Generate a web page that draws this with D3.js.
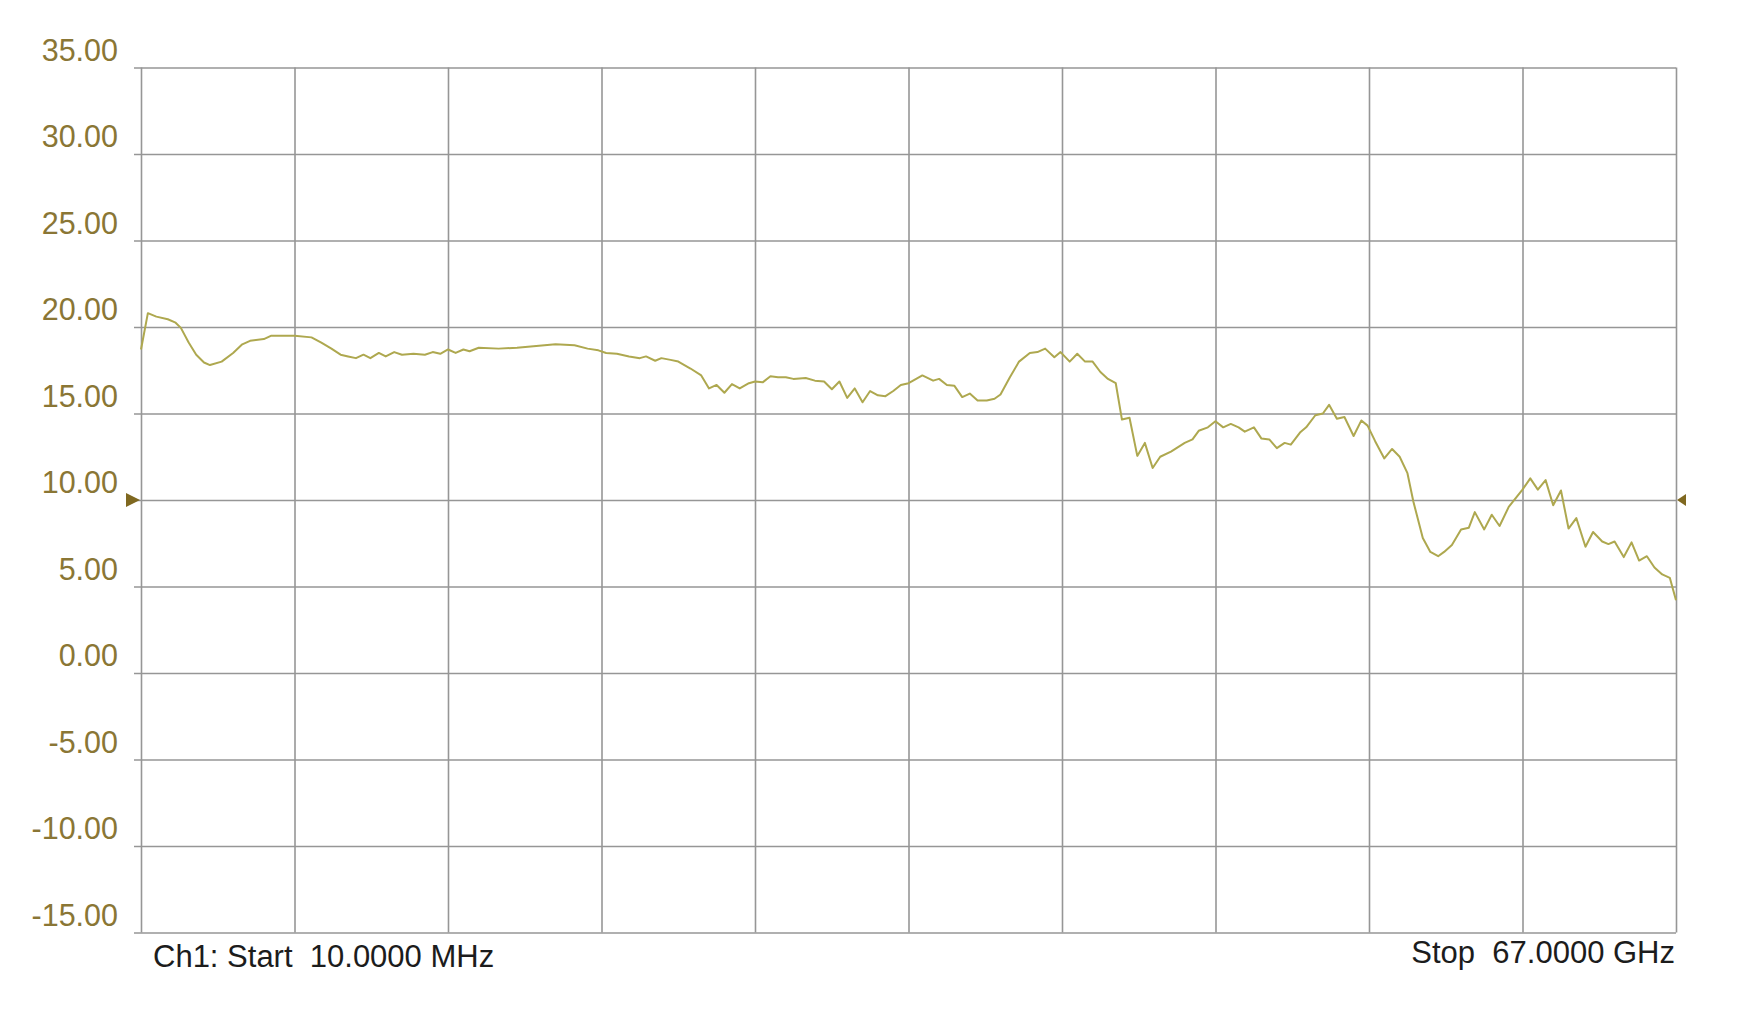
<!DOCTYPE html>
<html>
<head>
<meta charset="utf-8">
<script src="https://cdn.jsdelivr.net/npm/d3@7"></script>
<style>
  html, body { margin: 0; padding: 0; background: #ffffff; }
  svg { display: block; }
</style>
</head>
<body>
<svg id="chart" width="1739" height="1014"></svg>
<script>
// ---- data ----
const freqGHz = [
  0.01, 0.31, 0.68, 1.18, 1.52, 1.75, 2.09, 2.42, 2.76, 3.02, 3.53, 4.03, 4.43, 4.77, 5.37, 5.70,
  6.71, 7.45, 7.88, 8.32, 8.72, 9.05, 9.39, 9.72, 10.02, 10.39, 10.69, 11.06, 11.40, 11.90, 12.40, 12.74,
  13.07, 13.41, 13.74, 14.08, 14.35, 14.75, 15.62, 16.42, 17.26, 18.10, 18.93, 19.50, 19.97, 20.31, 20.78,
  21.31, 21.78, 22.05, 22.45, 22.72, 23.12, 23.46, 23.99, 24.46, 24.80, 25.13, 25.47, 25.80, 26.14, 26.54,
  26.81, 27.14, 27.48, 27.81, 28.15, 28.48, 29.02, 29.42, 29.82, 30.16, 30.49, 30.83, 31.16, 31.50, 31.83,
  32.17, 32.50, 32.84, 33.17, 33.51, 33.84, 34.11, 34.58, 34.84, 35.18, 35.51, 35.85, 36.18, 36.52, 36.92,
  37.26, 37.52, 37.93, 38.33, 38.80, 39.13, 39.47, 39.87, 40.14, 40.54, 40.87, 41.21, 41.54, 41.88, 42.21,
  42.55, 42.82, 43.15, 43.49, 43.82, 44.16, 44.49, 44.96, 45.56, 45.90, 46.17, 46.57, 46.90, 47.24, 47.57,
  47.91, 48.18, 48.58, 48.91, 49.25, 49.58, 49.92, 50.19, 50.59, 50.86, 51.26, 51.59, 51.86, 52.20, 52.53,
  52.93, 53.27, 53.54, 53.87, 54.27, 54.61, 54.94, 55.28, 55.54, 55.95, 56.28, 56.62, 56.88, 57.22, 57.62,
  57.96, 58.22, 58.63, 58.96, 59.30, 59.70, 60.30, 60.64, 60.97, 61.31, 61.64, 61.98, 62.31, 62.65, 63.05,
  63.38, 63.78, 64.05, 64.32, 64.72, 65.06, 65.39, 65.73, 66.06, 66.40, 66.73, 67.00
];
const gainDb = [
  18.7, 20.8, 20.6, 20.45, 20.25, 19.95, 19.1, 18.4, 17.95, 17.8, 18.0, 18.5, 19.0, 19.2, 19.3, 19.5,
  19.5, 19.4, 19.1, 18.75, 18.4, 18.3, 18.2, 18.4, 18.2, 18.5, 18.3, 18.55, 18.4, 18.45, 18.4, 18.55,
  18.45, 18.7, 18.5, 18.7, 18.6, 18.8, 18.75, 18.8, 18.9, 19.0, 18.95, 18.75, 18.65, 18.5, 18.45,
  18.3, 18.2, 18.3, 18.05, 18.2, 18.1, 18.0, 17.6, 17.2, 16.45, 16.65, 16.2, 16.7, 16.45, 16.75,
  16.85, 16.8, 17.15, 17.1, 17.1, 17.0, 17.05, 16.9, 16.85, 16.4, 16.85, 15.9, 16.45, 15.65, 16.3,
  16.05, 16.0, 16.3, 16.65, 16.75, 17.0, 17.2, 16.9, 17.0, 16.65, 16.6, 15.95, 16.15, 15.75, 15.75,
  15.85, 16.1, 17.1, 18.0, 18.5, 18.55, 18.75, 18.25, 18.55, 18.0, 18.45, 18.0, 18.0, 17.4, 17.0,
  16.75, 14.65, 14.75, 12.55, 13.3, 11.85, 12.5, 12.8, 13.3, 13.5, 14.0, 14.2, 14.55, 14.2, 14.4,
  14.2, 13.95, 14.2, 13.55, 13.5, 13.0, 13.3, 13.2, 13.9, 14.2, 14.9, 15.0, 15.5, 14.7, 14.8,
  13.7, 14.6, 14.3, 13.4, 12.4, 12.95, 12.5, 11.55, 9.9, 7.8, 7.0, 6.75, 7.0, 7.4, 8.3,
  8.4, 9.3, 8.3, 9.15, 8.5, 9.6, 10.6, 11.25, 10.6, 11.15, 9.7, 10.55, 8.35, 8.95, 7.3,
  8.15, 7.6, 7.45, 7.6, 6.7, 7.55, 6.5, 6.75, 6.1, 5.7, 5.5, 4.2
];
const yTicks = [35, 30, 25, 20, 15, 10, 5, 0, -5, -10, -15];
const xGrid = [0.01, 6.709, 13.408, 20.107, 26.806, 33.505, 40.204, 46.903, 53.602, 60.301, 67.0];
const startLabel = "Ch1: Start  10.0000 MHz";
const stopLabel = "Stop  67.0000 GHz";
const refLevel = 10;

// ---- layout ----
const L = 141, R = 1676, T = 67.5, B = 932.5;
const svg = d3.select("#chart");
const x = d3.scaleLinear().domain([0.01, 67]).range([L, R]);
const y = d3.scaleLinear().domain([-15, 35]).range([B, T]);

const gridColor = "#969696";

// horizontal grid (via axis)
svg.append("g").attr("transform", `translate(${R},0)`)
  .call(d3.axisLeft(y).tickValues(yTicks).tickSize(R - L + 7).tickFormat(""))
  .call(g => g.select(".domain").remove())
  .call(g => g.selectAll(".tick line").attr("stroke", gridColor).attr("stroke-width", 1.6));

// vertical grid
svg.append("g").attr("transform", `translate(0,${B})`)
  .call(d3.axisBottom(x).tickValues(xGrid).tickSize(-(B - T)).tickFormat(""))
  .call(g => g.select(".domain").remove())
  .call(g => g.selectAll(".tick line").attr("stroke", gridColor).attr("stroke-width", 1.6));

// y labels
svg.append("g").selectAll("text").data(yTicks).join("text")
  .attr("x", 118).attr("y", d => y(d) - 7)
  .attr("text-anchor", "end")
  .attr("font-family", "Liberation Sans, Arial, sans-serif")
  .attr("font-size", 30.5)
  .attr("fill", "#8a7635")
  .text(d => d.toFixed(2));

// trace
const line = d3.line().x(d => x(d[0])).y(d => y(d[1]));
svg.append("path")
  .datum(freqGHz.map((f, i) => [f, gainDb[i]]))
  .attr("d", line)
  .attr("fill", "none")
  .attr("stroke", "#aea84f")
  .attr("stroke-width", 2)
  .attr("stroke-linejoin", "round");

// reference markers
const ry = y(refLevel);
svg.append("path")
  .attr("d", `M${L - 15},${ry - 7} L${L - 1},${ry} L${L - 15},${ry + 7} Z`)
  .attr("fill", "#7f6820");
svg.append("path")
  .attr("d", `M${R + 1},${ry} L${R + 10},${ry - 6} L${R + 10},${ry + 6} Z`)
  .attr("fill", "#7f6820");

// bottom labels
svg.append("text")
  .attr("x", 153).attr("y", 967)
  .attr("font-family", "Liberation Sans, Arial, sans-serif")
  .attr("font-size", 31)
  .attr("fill", "#1c1c1c")
  .style("white-space", "pre")
  .text(startLabel);
svg.append("text")
  .attr("x", 1675).attr("y", 963)
  .attr("text-anchor", "end")
  .attr("font-family", "Liberation Sans, Arial, sans-serif")
  .attr("font-size", 31)
  .attr("fill", "#1c1c1c")
  .style("white-space", "pre")
  .text(stopLabel);
</script>
</body>
</html>
